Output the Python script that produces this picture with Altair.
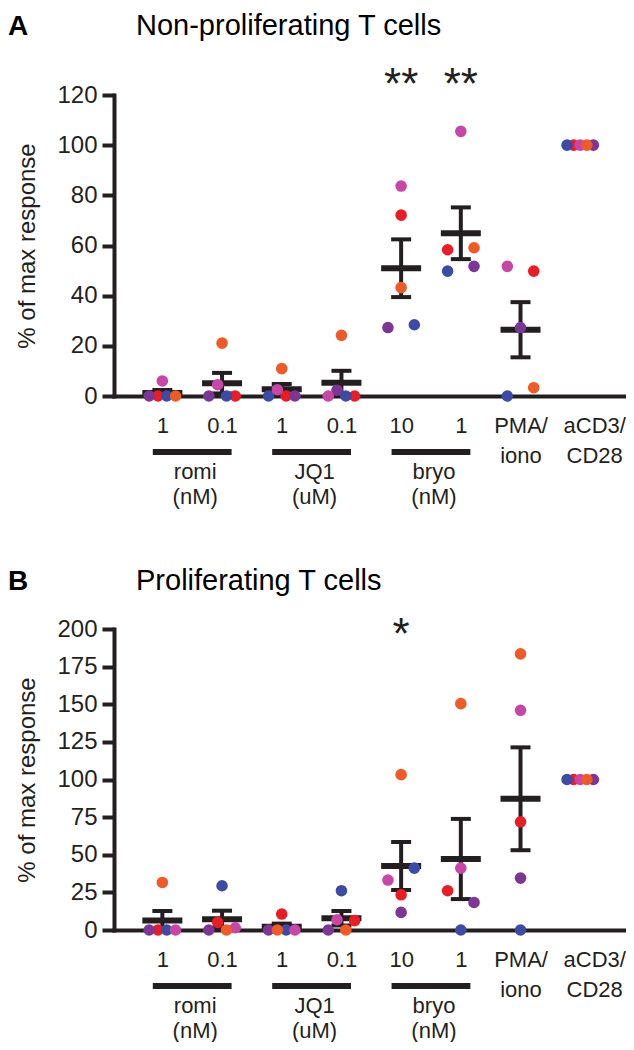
import altair as alt
import pandas as pd

# ---------------- data ----------------
conditions = ["romi 1", "romi 0.1", "JQ1 1", "JQ1 0.1", "bryo 10", "bryo 1", "PMA/iono", "aCD3/CD28"]
positions = [1, 2, 3, 4, 5, 6, 7, 8]
tick_labels = [["1"], ["0.1"], ["1"], ["0.1"], ["10"], ["1"], ["PMA/", "iono"], ["aCD3/", "CD28"]]
group_names = ["romi\n(nM)", "JQ1\n(uM)", "bryo\n(nM)"]
group_first = [1, 3, 5]
group_last = [2, 4, 6]

donors = ["red", "purple", "blue", "magenta", "orange"]
donor_colors = ["#ec1c24", "#7d3596", "#3b4ba6", "#c945a8", "#f15a24"]

# Panel A: non-proliferating T cells (% of max response)
a_red = [0, 0, 0, 0, 72.1, 58.3, 49.8, 100]
a_purple = [0, 0, 0, 2.3, 27.3, 51.7, 27.3, 100]
a_blue = [0, 0, 0, 0, 28.4, 49.8, 0, 100]
a_magenta = [6.0, 4.5, 2.5, 0, 83.7, 105.5, 51.7, 100]
a_orange = [0, 21.1, 10.9, 24.2, 43.2, 59.1, 3.3, 100]
# scatter slots (horizontal spread of dots within a column)
a_slot_red = [-1, 3, 1, 3, 0, -3, 3, -1.5]
a_slot_purple = [-3, -3, 3, -1, -3, 3, 0, 3]
a_slot_blue = [1, 1, -3, 1, 3, -3, -3, -3]
a_slot_magenta = [0, -1, -1, -3, 0, 0, -3, 0]
a_slot_orange = [3, 0, 0, 0, 0, 3, 3, 1.5]
a_stars_pos = [5, 6]
a_stars_text = ["**", "**"]

# Panel B: proliferating T cells
b_red = [0, 5.1, 10.6, 6.2, 23.4, 26.1, 71.9, 100]
b_purple = [0, 0, 0, 0, 11.7, 18.3, 34.5, 100]
b_blue = [0, 29.4, 0, 26.1, 41.1, 0, 0, 100]
b_magenta = [0, 1.5, 0, 6.8, 33.2, 41.1, 146.0, 100]
b_orange = [31.6, 0, 0, 0, 103.2, 150.4, 183.5, 100]
b_slot_red = [-1, -1, 0, 3, 0, -3, 0, -1.5]
b_slot_purple = [-3, -3, -3, -3, 0, 3, 0, 3]
b_slot_blue = [1, 0, 1, 0, 3, 0, 0, -3]
b_slot_magenta = [3, 3, 3, -1, -3, 0, 0, 0]
b_slot_orange = [0, 1, -1, 1, 0, 0, 0, 1.5]
b_stars_pos = [5]
b_stars_text = ["*"]

# ---------------- style ----------------
FONT = "Liberation Sans"
INK = "#231f20"
W = 512
H = 301
XDOM = [0.19, 8.767]
SLOT = 0.0737  # spread unit in x-position units


def make_df(vals, slots):
    rows = []
    for d, v_list, s_list in zip(donors, vals, slots):
        for p, c, v, s in zip(positions, conditions, v_list, s_list):
            rows.append({"pos": p, "condition": c, "donor": d, "value": v, "slot": s})
    return pd.DataFrame(rows)


label_expr = "[" + ",".join("[" + ",".join("'" + s + "'" for s in lab) + "]" for lab in tick_labels) + "][datum.value - 1]"

xscale = alt.Scale(domain=XDOM, nice=False, zero=False)
xaxis = alt.Axis(
    values=positions, labelExpr=label_expr, ticks=False, grid=False, title=None,
    domainWidth=4, domainColor=INK, domainCap="square", labelFontSize=22, labelFont=FONT,
    labelColor=INK, labelPadding=19, labelLineHeight=30, labelBaseline="top", labelAlign="center",
    labelOffset={"condition": {"test": "datum.value == 8", "value": 14}, "value": 0},
    labelOverlap=False, labelFlush=False, labelBound=False,
)


def panel(df, ymax, ystep, title, letter, stars_pos, stars_text, star_y, title_y):
    yscale = alt.Scale(domain=[0, ymax], nice=False)
    yaxis = alt.Axis(
        values=list(range(0, ymax + 1, ystep)), grid=False, tickSize=12, tickWidth=4,
        tickColor=INK, domainWidth=4, domainColor=INK, domainCap="square",
        labelFontSize=24, labelFont=FONT, labelColor=INK, labelPadding=5,
        title="% of max response", titleFontSize=24, titleFont=FONT, titleFontWeight="normal",
        titleColor=INK, titlePadding=17,
    )
    X = lambda f: alt.X(f, scale=xscale, axis=xaxis)
    Y = lambda f: alt.Y(f, scale=yscale, axis=yaxis)

    base = alt.Chart(df)
    agg = base.transform_aggregate(
        mean="mean(value)", sem="stderr(value)", groupby=["pos"]
    ).transform_filter("datum.sem > 0").transform_calculate(
        lo="datum.mean - datum.sem", hi="datum.mean + datum.sem"
    )
    stem = agg.mark_rule(strokeWidth=4, color=INK).encode(x=X("pos:Q"), y=Y("lo:Q"), y2="hi:Q")
    cap_lo = agg.mark_tick(orient="horizontal", size=20, thickness=4, color=INK, opacity=1).encode(x=X("pos:Q"), y=Y("lo:Q"))
    cap_hi = agg.mark_tick(orient="horizontal", size=20, thickness=4, color=INK, opacity=1).encode(x=X("pos:Q"), y=Y("hi:Q"))
    mean = agg.mark_tick(orient="horizontal", size=40, thickness=6, color=INK, opacity=1).encode(x=X("pos:Q"), y=Y("mean:Q"))

    pts = base.transform_calculate(xj=f"datum.pos + datum.slot * {SLOT}").mark_circle(
        size=135, opacity=1
    ).encode(
        x=X("xj:Q"), y=Y("value:Q"),
        color=alt.Color("donor:N", scale=alt.Scale(domain=donors, range=donor_colors), legend=None),
    )

    gdf = pd.DataFrame({"name": group_names, "a": group_first, "b": group_last})
    gbase = alt.Chart(gdf).transform_calculate(
        mid="(datum.a + datum.b) / 2", lo="(datum.a + datum.b) / 2 - 0.66", hi="(datum.a + datum.b) / 2 + 0.66"
    )
    gbar = gbase.mark_rule(strokeWidth=6, color=INK).encode(x=X("lo:Q"), x2="hi:Q", y=alt.value(H + 56))
    gtext = gbase.mark_text(
        font=FONT, fontSize=22, color=INK, lineBreak="\n", lineHeight=25, baseline="alphabetic", align="center", dx=3
    ).encode(x=X("mid:Q"), y=alt.value(H + 83), text="name:N")

    sdf = pd.DataFrame({"pos": stars_pos, "t": stars_text})
    stars = alt.Chart(sdf).mark_text(font=FONT, fontSize=44, color=INK, baseline="alphabetic").encode(
        x=X("pos:Q"), y=alt.value(star_y), text="t:N"
    )

    ldf = pd.DataFrame({"t": [letter]})
    let = alt.Chart(ldf).mark_text(font=FONT, fontSize=28, fontWeight="bold", color="#000000", align="left", baseline="alphabetic").encode(
        x=alt.value(-106), y=alt.value(title_y), text="t:N"
    )
    tdf = pd.DataFrame({"t": [title]})
    ttl = alt.Chart(tdf).mark_text(font=FONT, fontSize=29, color="#000000", align="left", baseline="alphabetic").encode(
        x=alt.value(22), y=alt.value(title_y), text="t:N"
    )

    return alt.layer(stem, cap_lo, cap_hi, mean, pts, stars, gbar, gtext, let, ttl).properties(width=W, height=H)


dfa = make_df([a_red, a_purple, a_blue, a_magenta, a_orange],
              [a_slot_red, a_slot_purple, a_slot_blue, a_slot_magenta, a_slot_orange])
dfb = make_df([b_red, b_purple, b_blue, b_magenta, b_orange],
              [b_slot_red, b_slot_purple, b_slot_blue, b_slot_magenta, b_slot_orange])

pa = panel(dfa, 120, 20, "Non-proliferating T cells", "A", a_stars_pos, a_stars_text, 4, -60)
pb = panel(dfb, 200, 25, "Proliferating T cells", "B", b_stars_pos, b_stars_text, 20, -38.6)

chart = alt.vconcat(pa, pb, spacing=59).properties(
    padding={"top": 4, "left": 0, "right": 0, "bottom": 0}
).configure_view(stroke=None)

chart.save("out.html", embed_options={"renderer": "svg", "actions": False})
